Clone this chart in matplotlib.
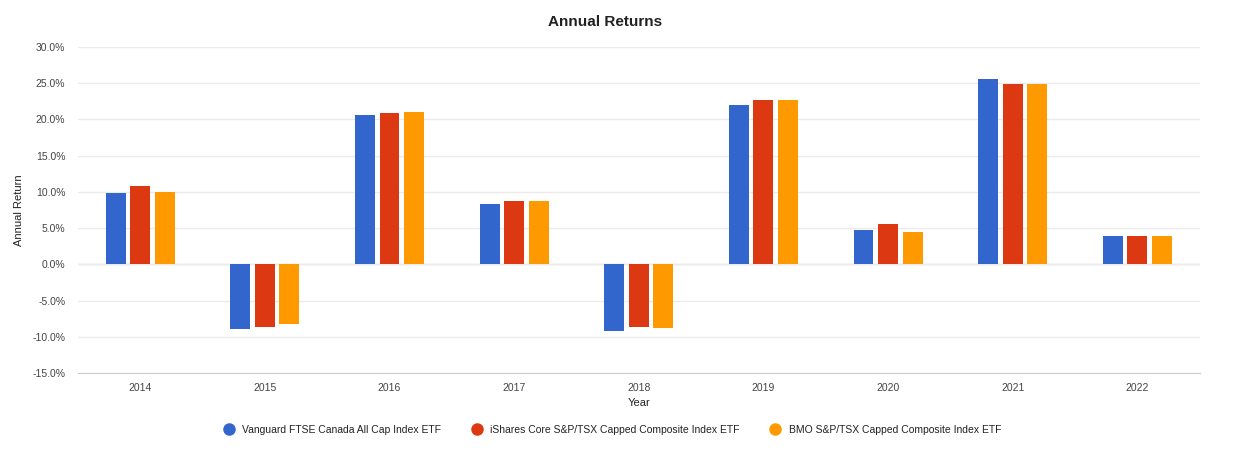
import numpy as np
import matplotlib
matplotlib.use("Agg")
import matplotlib.pyplot as plt
from matplotlib.lines import Line2D
from matplotlib.ticker import FuncFormatter

plt.rcParams["font.family"] = ["Liberation Sans", "DejaVu Sans"]

years = ["2014", "2015", "2016", "2017", "2018", "2019", "2020", "2021", "2022"]
series_names = [
    "Vanguard FTSE Canada All Cap Index ETF",
    "iShares Core S&P/TSX Capped Composite Index ETF",
    "BMO S&P/TSX Capped Composite Index ETF",
]
vanguard = [9.9, -8.9, 20.65, 8.3, -9.2, 22.0, 4.7, 25.6, 3.9]
ishares = [10.8, -8.7, 20.9, 8.8, -8.7, 22.7, 5.5, 24.95, 3.9]
bmo = [10.05, -8.2, 21.0, 8.8, -8.8, 22.7, 4.45, 24.95, 3.9]
colors = ["#3366CC", "#DC3912", "#FF9900"]

fig = plt.figure(figsize=(12.47, 4.61), dpi=100)
ax = fig.add_axes([0.0625, 0.191, 0.8995, 0.707])

x = np.arange(len(years))
offsets = [-0.197, 0.0, 0.197]
for vals, off, c in zip([vanguard, ishares, bmo], offsets, colors):
    ax.bar(x + off, vals, width=0.16, color=c, zorder=3)

ax.set_xlim(-0.5, len(years) - 0.5)
ax.set_ylim(-15, 30)
ax.set_yticks(np.arange(-15, 31, 5))
ax.yaxis.set_major_formatter(FuncFormatter(lambda v, p: f"{v:.1f}%"))
ax.set_xticks(x)
ax.set_xticklabels(years)
ax.grid(axis="y", color="#ebebeb", linewidth=1, zorder=0)
ax.axhline(0, color="#e0e0e0", linewidth=1, zorder=1)
for s in ["top", "right", "left"]:
    ax.spines[s].set_visible(False)
ax.spines["bottom"].set_color("#cccccc")
ax.tick_params(axis="both", length=0, labelsize=7.5, colors="#444444")
ax.tick_params(axis="x", pad=7)
ax.tick_params(axis="y", pad=9)

ax.set_xlabel("Year", fontsize=8, color="#222222", labelpad=4)
ax.set_ylabel("Annual Return", fontsize=8, color="#222222", labelpad=6)
fig.text(0.485, 0.952, "Annual Returns", ha="center", va="center",
         fontsize=11, fontweight="bold", color="#222222")

handles = [Line2D([0], [0], marker="o", linestyle="none", markersize=8,
                  markerfacecolor=c, markeredgecolor=c) for c in colors]
fig.legend(handles, series_names, loc="center", ncol=3,
           bbox_to_anchor=(0.489, 0.067), frameon=False, fontsize=7.5,
           handletextpad=0.3, columnspacing=2.4, labelcolor="#222222")

fig.savefig("out.png", dpi=100, facecolor="white")
